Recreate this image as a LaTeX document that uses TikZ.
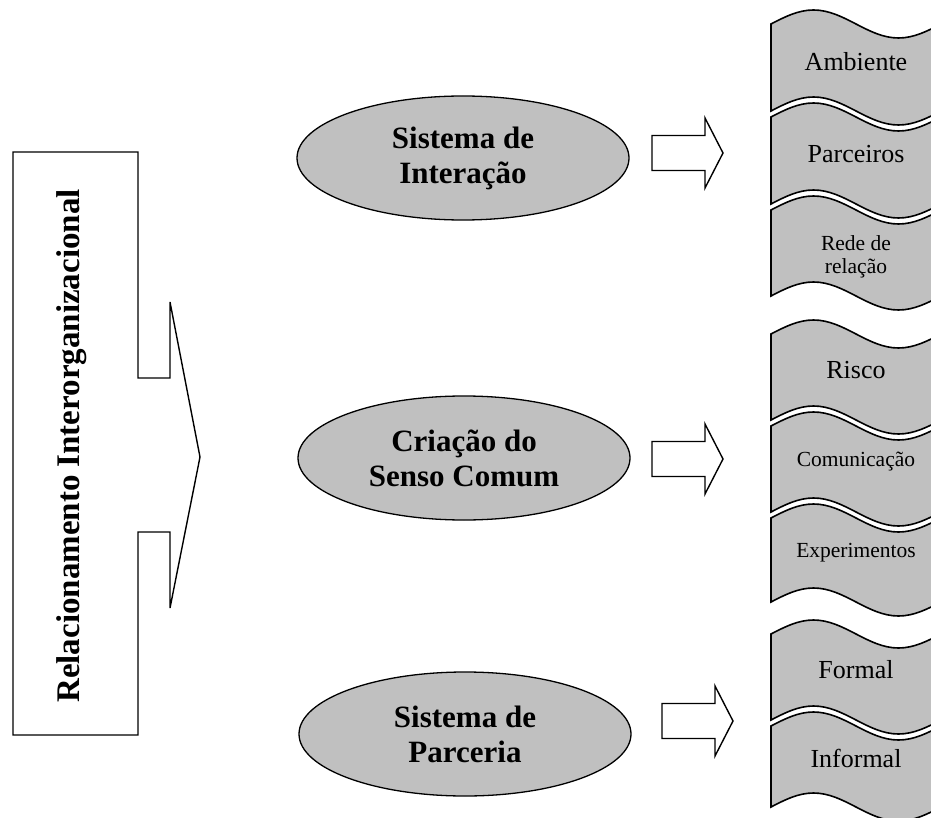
\documentclass[tikz,border=0pt]{standalone}
\usepackage{fontspec}
\setmainfont{Liberation Serif}
\definecolor{shade}{RGB}{192, 192, 192}
\usetikzlibrary{positioning, shapes.geometric}

\begin{document}
\begin{tikzpicture}[x=1pt, y=-1pt,
        topic/.style={draw, line width=1.3pt, ellipse, fill=shade, minimum width=332pt, minimum height=124pt, inner sep=0pt, align=center, font=\fontsize{31}{35}\selectfont\bfseries},
        tape/.style={draw, line width=1.6pt, fill=shade},
        tapetext/.style={align=center},
        blockarrow/.style={draw, line width=1.4pt, fill=white, line join=miter},
        callout/.style={draw, line width=1.4pt, fill=white, line join=miter}
      ]
        \useasboundingbox (0,0) rectangle (931,818);
        \clip (0,0) rectangle (931,818);
        % left callout
        \draw[callout] (13,152) -- (138,152) -- (138,378) -- (170,378) -- (170,302) -- (200,457)
          -- (170,608) -- (170,532) -- (138,532) -- (138,735) -- (13,735) -- cycle;
        \node[rotate=90, font=\fontsize{33}{38}\selectfont\bfseries] (rel) at (72,446) {Relacionamento Interorganizacional};
        % the three systems
        \node[topic] (inter) at (463,158) {Sistema de\\Interação};
        \node[topic] (senso) at (464,458) {Criação do\\Senso Comum};
        \node[topic] (parc)  at (465,734) {Sistema de\\Parceria};
        \foreach \x/\y in {652/153, 652/459, 662/721}
          \draw[blockarrow] (\x,\y-17.5) -- ++(53,0) -- ++(0,-17.5) -- ++(18,35) -- ++(-18,35) -- ++(0,-17.5) -- ++(-53,0) -- cycle;
        % tapes
        \foreach \ya/\yb/\nm/\sz/\ty/\lbl in {24/111/amb/26/62/Ambiente, 117/204/parc2/26/154/Parceiros, 210/296/rede/21.5/257/{Rede de\\relação},
            334/420/risco/26/370/Risco, 426/512/com/21.5/462/Comunicação, 518/602/exp/21.5/553/Experimentos,
            634/720/formal/26/670/Formal, 726/807/inf/26/758/Informal} {
          \draw[tape] (771,\ya) sin (813.5,\ya-14) cos (856,\ya) sin (898.5,\ya+14) cos (941,\ya)
            -- (941,\yb) sin (898.5,\yb+14) cos (856,\yb) sin (813.5,\yb-14) cos (771,\yb) -- cycle;
          \node[tapetext, font=\fontsize{\sz}{23}\selectfont] (\nm) at (856,\ty) {\lbl};
        }
      \end{tikzpicture}
\end{document}
